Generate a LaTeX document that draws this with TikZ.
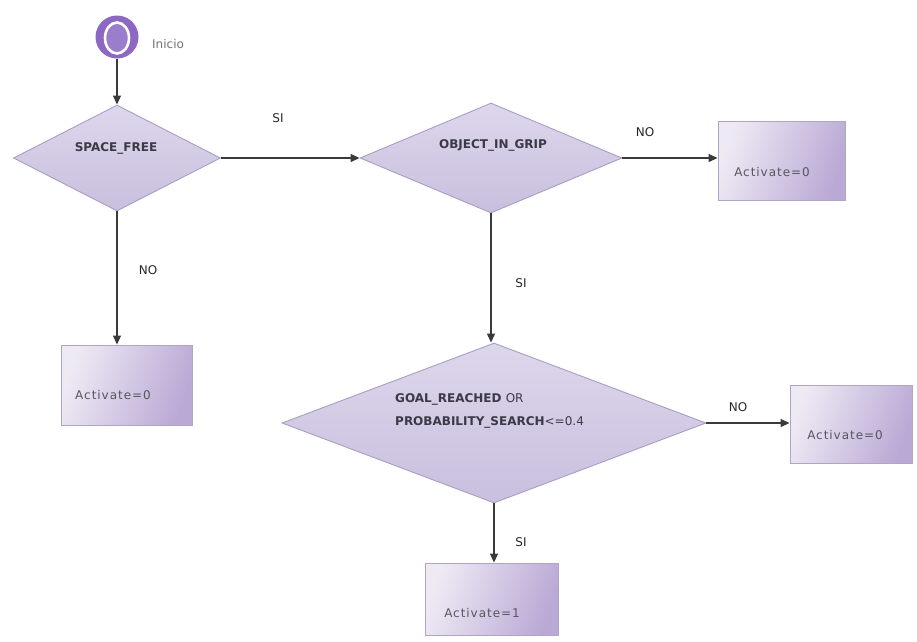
\documentclass[tikz,border=0pt]{standalone}
\usepackage{fontspec}
\setmainfont{DejaVu Sans}
\usetikzlibrary{shapes.geometric,arrows.meta}
\definecolor{diafill}{HTML}{D6CFE7}
\definecolor{diatop}{HTML}{DDD7EC}
\definecolor{diabot}{HTML}{C9BFDE}
\definecolor{diaedge}{HTML}{A89EC2}
\definecolor{boxlight}{HTML}{EEEAF4}
\definecolor{boxdark}{HTML}{BAA9D5}
\definecolor{boxedge}{HTML}{B0A5C6}
\definecolor{txtdark}{HTML}{3A3A44}
\definecolor{arrowcol}{HTML}{3A3A3A}
\definecolor{startout}{HTML}{8C68C2}
\definecolor{startin}{HTML}{9A7ECD}
\begin{document}
\begin{tikzpicture}[x=1pt,y=-1pt,
  decision/.style={shape=diamond,inner sep=0pt,draw=diaedge,line width=0.9pt,
    top color=diatop,bottom color=diabot},
  actbox/.style={rectangle,inner sep=0pt,draw=boxedge,line width=0.9pt,
    left color=boxlight,right color=boxdark,shading angle=70},
  boldtxt/.style={font=\fontsize{12}{14}\selectfont\bfseries,text=txtdark,inner sep=0pt},
  normtxt/.style={font=\fontsize{12}{14}\selectfont\addfontfeatures{LetterSpace=8},text=txtdark!85,inner sep=0pt},
  lbl/.style={font=\fontsize{12}{14}\selectfont,text=black!85,inner sep=0pt},
  flow/.style={draw=arrowcol,line width=1.2pt,-{Triangle[length=9pt,width=8pt]}}
]
\useasboundingbox (0,0) rectangle (917,641);

% start
\node[circle,fill=startout,minimum size=43pt,inner sep=0pt] (start) at (117,37) {};
\node[ellipse,draw=white,line width=2.6pt,fill=startin,minimum width=24pt,minimum height=31pt,inner sep=0pt] (startin) at (117,38) {};
\node[lbl,text=black!55,anchor=west] (inicio) at (152,44) {Inicio};

% decisions
\node[decision,minimum width=207pt,minimum height=106pt] (sf) at (117,158) {};
\node[boldtxt] (sftxt) at (116,148) {SPACE\_FREE};

\node[decision,minimum width=262pt,minimum height=110pt] (oig) at (491,158) {};
\node[boldtxt] (oigtxt) at (493,145) {OBJECT\_IN\_GRIP};

\node[decision,minimum width=424pt,minimum height=160pt] (goal) at (494,423) {};
\node[boldtxt,anchor=west] (goaltxt1) at (395,399) {GOAL\_REACHED \mdseries OR};
\node[boldtxt,anchor=west] (goaltxt2) at (395,422) {PROBABILITY\_SEARCH\mdseries<=0.4};

% boxes
\node[actbox,minimum width=127pt,minimum height=79pt] (box1) at (781.5,160.5) {};
\node[normtxt] (box1txt) at (772,172) {Activate=0};

\node[actbox,minimum width=131pt,minimum height=80pt] (box2) at (126.5,385) {};
\node[normtxt] (box2txt) at (113,395) {Activate=0};

\node[actbox,minimum width=122pt,minimum height=78pt] (box3) at (851,424) {};
\node[normtxt] (box3txt) at (845,435) {Activate=0};

\node[actbox,minimum width=133pt,minimum height=72pt] (box4) at (491.5,599) {};
\node[normtxt] (box4txt) at (482,613) {Activate=1};

% connectors
\draw[flow] (start.south) -- (sf.north);
\draw[flow] (sf.east) -- (oig.west);
\draw[flow] (oig.east) -- (box1.west |- oig.east);
\draw[flow] (sf.south) -- (sf.south |- box2.north);
\draw[flow] (oig.south) -- (oig.south |- goal.north);
\draw[flow] (goal.east) -- (box3.west |- goal.east);
\draw[flow] (goal.south) -- (goal.south |- box4.north);

% labels
\node[lbl] (l1) at (278,118) {SI};
\node[lbl] (l2) at (645,132) {NO};
\node[lbl] (l3) at (148,270) {NO};
\node[lbl] (l4) at (521,283) {SI};
\node[lbl] (l5) at (738,407) {NO};
\node[lbl] (l6) at (521,542) {SI};
\end{tikzpicture}
\end{document}
